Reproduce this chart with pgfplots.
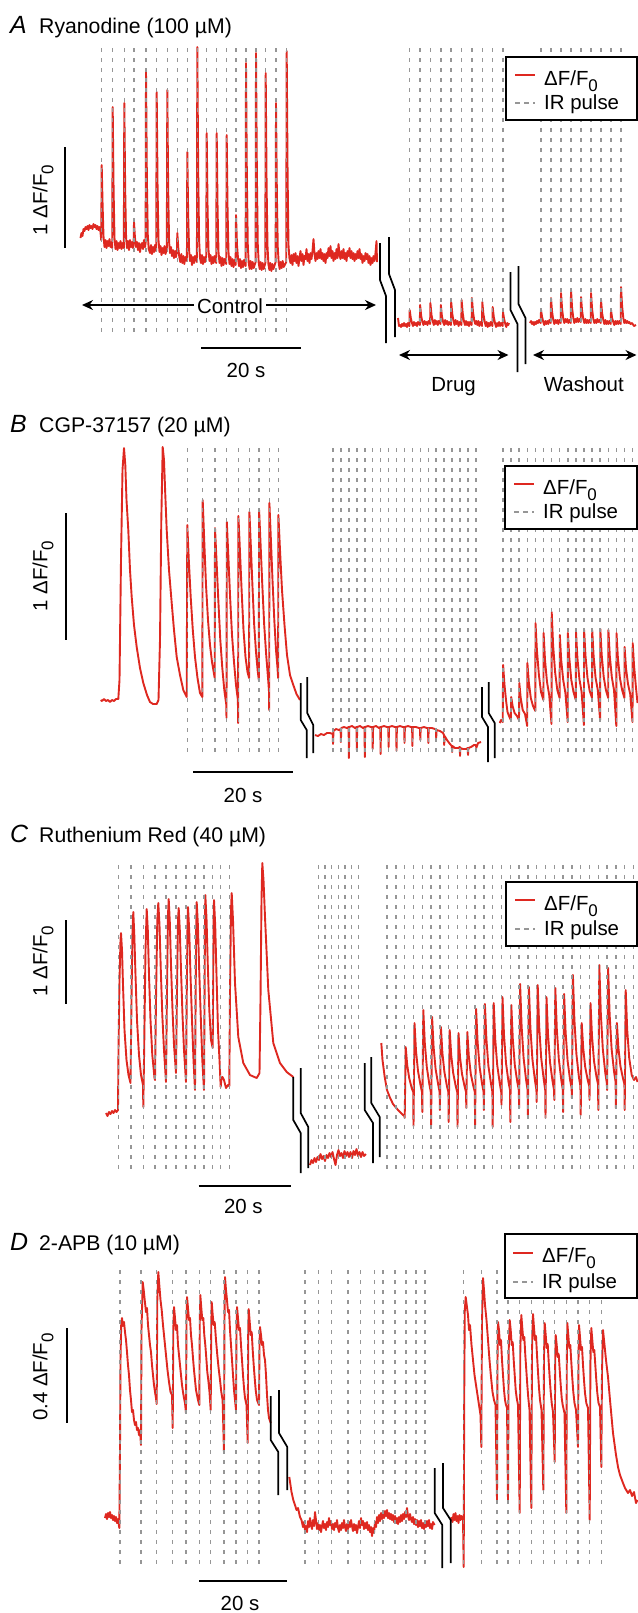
\documentclass[border=0pt]{standalone}
\usepackage{fontspec}
\setmainfont{Liberation Sans}
\usepackage{pgfplots}
\pgfplotsset{compat=1.18}
\usetikzlibrary{arrows.meta}

\definecolor{trred}{RGB}{222,40,32}
\definecolor{irgray}{RGB}{150,150,150}
\newcommand{\dff}{ΔF/F\raisebox{-0.3em}{\fontsize{17}{17}\selectfont 0}}

\pgfplotsset{
  trace/.style={color=trred, line width=1.9bp, line join=round},
  irp/.style={color=irgray, line width=1.5bp, dash pattern=on 4bp off 6bp},
}
\tikzset{
  brk/.style={black, line width=1.7bp},
  sbar/.style={black, line width=2.2bp},
  lbl/.style={font=\fontsize{20.5}{24}\selectfont, inner sep=0pt},
  ttx/.style={font=\fontsize{21.3}{25}\selectfont, inner sep=0pt, anchor=base west},
  ttl/.style={font=\fontsize{25}{28}\selectfont\itshape, inner sep=0pt, anchor=base west},
  dbl/.style={black, line width=1.7bp, {Stealth[length=11bp,width=10bp]}-{Stealth[length=11bp,width=10bp]}},
}

\begin{document}
\begin{tikzpicture}
\begin{axis}[at={(0,0)}, anchor=south west, scale only axis,
  width=638bp, height=1613bp,
  xmin=0, xmax=638, ymin=0, ymax=1613, y dir=reverse,
  hide axis, clip=false]

%% ---------------- panel A: ryanodine ----------------
\addplot[trace] coordinates {
(80.5,238) (81.5,233) (82.5,236) (83.5,229) (84.5,231) (85.5,227) (86.5,229) (87.5,226) (88.5,230) (89.5,225) (90.5,228) (91.5,226) (92.5,229) (93.5,224) (94.5,227) (95.5,225) (96.5,229) (97.5,226) (98.5,230) (99.5,227) (100.5,232)
(101.2,240) (101.7,165) (102.6,205) (103.5,236) (104.5,247) (105.5,240) (106.5,248) (107.5,241) (108.5,246) (109.5,239) (110.5,247) (111.5,242) (112.2,248)
(112.7,107) (113.6,190) (114.5,238) (115.5,249) (116.5,241) (117.5,250) (118.5,243) (119.5,248) (120.5,241) (121.5,249) (122.5,243) (123.8,248)
(124.3,103) (125.2,190) (126.1,238) (127,248) (128,241) (129,250) (130,240) (131,247) (132,242) (133,248) (133.6,244)
(134,222) (135,238) (136,247) (137,242) (138,250) (139,243) (140,252) (141,245) (142,243) (143,249) (144,240) (145,247) (145.6,243)
(146,70) (146.9,180) (147.8,235) (148.7,249) (150,253) (151,245) (152,254) (153,247) (154,252) (155,245) (156.2,251)
(156.7,92) (157.6,190) (158.5,240) (159.5,252) (160.5,246) (161.5,255) (162.5,248) (163.5,253) (164.5,246) (165.5,254) (166.8,249)
(167.3,90) (168.2,190) (169.1,242) (170,253) (171,247) (172,256) (173,250) (174,258) (175,251) (176,257) (176.9,252)
(177.3,233) (178.3,248) (179.3,257) (180.3,262) (181.3,254) (182.3,263) (183.3,256) (184.3,264) (185.3,257) (186.9,261)
(187.3,152) (188.2,215) (189.1,250) (190,261) (191,255) (192,265) (193,257) (194,263) (195,256) (196.9,262)
(197.3,47) (198.2,170) (199.1,240) (200,258) (201,263) (202,255) (203,264) (204,257) (205,262) (206.2,256)
(206.7,133) (207.6,210) (208.5,250) (209.5,261) (210.5,255) (211.5,264) (212.5,257) (213.5,263) (214.5,256) (216.2,263)
(216.7,133) (217.6,210) (218.5,252) (219.5,263) (220.5,257) (221.5,266) (222.5,258) (223.5,265) (224.5,259) (226.2,264)
(226.7,135) (227.6,212) (228.5,252) (229.5,264) (230.5,257) (231.5,266) (232.5,259) (233.5,267) (234.5,260) (235.6,265)
(236,215) (237,245) (238,258) (239,266) (240,259) (241,268) (242,261) (243,267) (244,260) (245.6,266)
(246,63) (246.9,180) (247.8,245) (248.7,263) (249.7,269) (250.7,261) (251.7,269) (252.7,262) (253.7,268) (255.6,262)
(256,53) (256.9,175) (257.8,245) (258.7,263) (259.7,269) (260.7,262) (261.7,270) (262.7,263) (263.7,269) (265.3,263)
(265.7,73) (266.6,185) (267.5,246) (268.4,264) (269.4,270) (270.4,263) (271.4,271) (272.4,264) (273.4,269) (275.6,262)
(276,103) (276.9,195) (277.8,248) (278.7,263) (279.7,269) (280.7,262) (281.7,268) (282.7,261) (283.7,267) (286.2,262)
(286.7,51) (287.6,175) (288.5,245) (289.4,258) (290.5,263) (291.5,255)
(292.5,265) (293.5,254) (294.5,261) (295.5,253) (296.5,263) (297.5,256) (298.5,266) (299.5,258) (300.5,251) (301.5,261) (302.5,254) (303.5,265) (304.5,256) (305.5,259) (306.5,249) (307.5,261) (308.5,254) (309.5,263) (310.5,253) (311.5,259) (312.5,251) (313.5,239) (314.5,254) (315.5,261) (316.5,253) (317.5,259) (318.5,251) (319.5,258) (320.5,249) (321.5,259) (322.5,253) (323.5,261) (324.5,254) (325.5,263) (326.5,253) (327.5,258) (328.5,248) (329.5,256) (330.5,246) (331.5,258) (332.5,251) (333.5,261) (334.5,253) (335.5,259) (336.5,249) (337.5,258) (338.5,244) (339.5,254) (340.5,259) (341.5,251) (342.5,258) (343.5,249) (344.5,259) (345.5,253) (346.5,261) (347.5,251) (348.5,256) (349.5,248) (350.5,258) (351.5,251) (352.5,259) (353.5,253) (354.5,261) (355.5,254) (356.5,259) (357.5,251) (358.5,258) (359.5,249) (360.5,259) (361.5,254) (362.5,263) (363.5,256) (364.5,261) (365.5,253) (366.5,259) (367.5,254) (368.5,263) (369.5,256) (370.5,265) (371.5,258) (372.5,263) (373.5,256) (374.5,261) (375.5,253) (376.5,241) (377,262)
};
\addplot[trace] coordinates {
(398,318) (399,326) (400,325) (401,327) (402,324) (403,326) (404,323) (405,326) (406,324) (407,327) (408,323) (409.4,326)
(409.7,310) (410.8,318) (412,323) (413,326) (414,322) (415,325) (416,323) (417,326) (418,322) (419.8,325)
(420.1,305) (421.2,316) (422.4,322) (423.5,325) (424.5,321) (425.5,324) (426.5,322) (427.5,325) (428.5,321) (430.1,324)
(430.4,303) (431.5,315) (432.7,321) (433.8,325) (434.8,320) (435.8,324) (436.8,321) (437.8,325) (438.8,321) (440.5,324)
(440.8,305) (441.9,316) (443.1,322) (444.2,325) (445.2,320) (446.2,324) (447.2,321) (448.2,325) (449.2,322) (450.9,325)
(451.2,302) (452.3,314) (453.5,321) (454.6,325) (455.6,320) (456.6,324) (457.6,321) (458.6,326) (459.6,322) (461.3,325)
(461.6,300) (462.7,313) (463.9,321) (465,325) (466,321) (467,325) (468,322) (469,326) (470,322) (471.6,325)
(471.9,298) (473,312) (474.2,320) (475.3,324) (476.3,321) (477.3,325) (478.3,321) (479.3,326) (480.3,322) (482,326)
(482.3,302) (483.4,314) (484.6,321) (485.7,326) (486.7,322) (487.7,327) (488.7,323) (489.7,326) (490.7,322) (492.4,326)
(492.7,307) (493.8,317) (495,323) (496.1,327) (497.1,323) (498.1,326) (499.1,322) (500.1,326) (501.1,323) (502.7,326)
(503,312) (504.1,319) (505.3,324) (506.3,327) (507.3,323) (508.3,325) (509,323)
};
\addplot[trace] coordinates {
(530,323) (531,321) (532,324) (533,322) (534,325) (535,322) (536,324) (537,321) (538,323) (539,320) (540.7,323)
(541,310) (542.1,317) (543.3,322) (544.3,325) (545.3,321) (546.3,324) (547.3,321) (548.3,324) (549.3,320) (550.7,323)
(551,298) (552.1,312) (553.3,320) (554.3,324) (555.3,320) (556.3,323) (557.3,320) (558.3,324) (559.3,320) (560.7,323)
(561,293) (562.1,309) (563.3,319) (564.3,323) (565.3,319) (566.3,322) (567.3,319) (568.3,323) (569.3,320) (570.7,323)
(571,290) (572.1,308) (573.3,318) (574.3,323) (575.3,319) (576.3,322) (577.3,318) (578.3,322) (579.3,319) (580.7,322)
(581,297) (582.1,311) (583.3,319) (584.3,323) (585.3,319) (586.3,323) (587.3,320) (588.3,323) (589.3,320) (590.7,323)
(591,293) (592.1,309) (593.3,319) (594.3,323) (595.3,320) (596.3,323) (597.3,319) (598.3,322) (599.3,320) (600.7,323)
(601,300) (602.1,313) (603.3,320) (604.3,324) (605.3,320) (606.3,324) (607.3,321) (608.3,324) (609.3,321) (610.7,324)
(611,310) (612.1,318) (613.3,322) (614.3,325) (615.3,321) (616.3,324) (617.3,321) (618.3,324) (619.3,321) (620.7,324)
(621,287) (622.1,306) (623.3,318) (624.3,323) (625.3,320) (626.3,323) (627.3,321) (628.3,323) (629.3,322) (630.5,324) (632,323) (634,326) (636,325)
};
\pgfplotsinvokeforeach{101.7,112.7,124.3,134,146,156.7,167.3,177.3,187.3,197.3,206.7,216.7,226.7,236,246,256,265.7,276,286.7,409.7,420.1,430.4,440.8,451.2,461.6,471.9,482.3,492.7,503,541,551,561,571,581,591,601,611,621}{
  \addplot[irp] coordinates {(#1,48) (#1,334)};
}

%% ---------------- panel B: CGP-37157 ----------------
\addplot[trace] coordinates {
(100.7,700) (102,701) (104,699) (106,701) (108,700) (110,702) (112,700) (114,701) (116,699) (118.3,699)
(119.5,680) (121,560) (122.5,470) (124,448) (125.3,465) (126.5,500) (128.3,530) (130,570) (131.7,597) (134,625) (136.7,647) (140,668) (143.3,683) (147,695) (150,702) (153,704) (156.7,704) (158.5,700)
(160,640) (161.3,520) (162.7,447) (164,460) (165.3,495) (166.7,530) (169,570) (171.7,603) (174,630) (176.7,657) (180,675) (183.3,690) (186.7,697)
(187.3,525) (188.8,560) (190.7,597) (192.8,630) (195,657) (197.5,678) (200,693) (202.3,697)
(202.7,500) (204.2,540) (206,585) (208,620) (210,645) (212,662) (214.7,678)
(215,528) (216.5,560) (218.3,600) (220.3,640) (222.3,668) (224.3,690) (226.2,704) (226.5,718)
(226.8,522) (228.3,555) (230,595) (232,635) (234,662) (236,685) (237.9,700) (238.1,723)
(238.4,516) (239.9,550) (241.6,590) (243.5,630) (245.5,657) (247.5,672) (249.1,678)
(249.4,512) (250.8,545) (252.4,585) (254.2,625) (256,652) (257.8,672) (258.8,680)
(259.1,510) (260.6,545) (262.3,585) (264.2,625) (266.2,655) (268.2,680) (269.1,693) (269.2,710)
(269.4,503) (270.9,540) (272.5,580) (274.3,620) (276,650) (277.5,668) (278.1,678)
(278.4,515) (280,550) (282,590) (284.5,625) (287,655) (290,675) (293.3,685) (296.5,694) (300,700)
};
\addplot[trace] coordinates {
(315,735) (318,736) (321,734) (324,735) (327,733) (330,733) (332.7,734) (333,744) (333.5,731) (336,729) (339,730) (340.6,729) (340.9,742) (341.3,728) (344,727) (347,728) (348.6,727) (348.9,758) (349.3,727) (352,726) (355,728) (356.5,727) (356.8,750) (357.2,727) (360,726) (363,728) (364.5,727) (364.8,757) (365.2,727) (368,726) (371,727) (372.4,727) (372.7,749) (373.1,727) (376,726) (379,728) (380.3,727) (380.6,754) (381,727) (384,726) (387,727) (388.3,727) (388.6,747) (389,727) (392,726) (395,727) (396.2,727) (396.5,751) (396.9,727) (400,726) (403,727) (404.2,727) (404.5,743) (404.9,727) (408,726) (411,727) (412.1,727) (412.4,746) (412.8,727) (416,727) (419,728) (420,728) (420.3,740) (420.7,728) (424,727) (427,728) (428,728) (428.3,743) (428.7,728) (432,728) (435,729) (436,729) (436.2,738) (436.6,730) (440,731) (443,733) (444,735) (444.2,745) (444.6,736) (447,740) (450,744) (451.8,746) (452.1,752) (452.5,746) (455,748) (458,748) (459.8,747) (460,756) (460.4,748) (463,749) (466,749) (467.7,748) (468,755) (468.4,748) (471,747) (474,745) (476,745) (476.3,748) (478,743) (481,742)
};
\addplot[trace] coordinates {
(499.7,723) (501,720) (502.7,722)
(503.1,665) (504.5,685) (506,700) (507.5,712) (509,716) (510.8,720)
(511.2,697) (512.6,706) (514.6,713) (517,716) (519,720)
(519.3,683) (520.7,698) (522.7,710) (525,714) (527.2,726)
(527.4,663) (528.8,682) (530.8,698) (533,706) (535.3,711)
(535.5,623) (536.9,650) (538.9,675) (541,692) (543.4,700)
(543.6,633) (545,660) (547,682) (549.2,695) (551.5,724)
(551.7,612) (553.1,645) (555.1,672) (557.3,690) (559.6,698)
(559.8,635) (561.2,660) (563.2,680) (565.4,693) (567.7,722)
(567.9,633) (569.3,658) (571.3,680) (573.5,692) (575.8,700)
(576,632) (577.4,658) (579.4,679) (581.6,692) (583.9,725)
(584.1,630) (585.5,656) (587.5,678) (589.7,691) (592,698)
(592.2,630) (593.6,656) (595.6,678) (597.8,690) (600.1,720)
(600.3,629) (601.7,655) (603.7,677) (605.9,690) (608.2,698)
(608.4,630) (609.8,656) (611.8,677) (614,690) (616.3,726)
(616.5,633) (617.9,658) (619.9,678) (622.1,690) (624.4,698)
(624.6,647) (626,668) (628,684) (630.2,694) (632.5,722)
(632.7,643) (634,665) (636,688) (637.5,703)
};
\pgfplotsinvokeforeach{187.3,202.7,215,226.7,238.3,249.3,259,269.3,278.3,333,340.9,348.9,356.8,364.8,372.7,380.6,388.6,396.5,404.5,412.4,420.3,428.3,436.2,444.2,452.1,460,468,476,503,511.1,519.2,527.3,535.4,543.5,551.6,559.7,567.8,575.9,584,592.1,600.2,608.3,616.4,624.5,632.6}{
  \addplot[irp] coordinates {(#1,448) (#1,755)};
}

%% ---------------- panel C: ruthenium red ----------------
\addplot[trace] coordinates {
(106,1113) (107.5,1116) (109,1112) (110.5,1114) (112,1111) (113.5,1113) (115,1110) (116.5,1112) (118,1110)
(118.5,1050) (119.5,980) (120.5,940) (121,933) (122,950) (123,985) (124.5,1030) (126.5,1060) (128.5,1075) (130.5,1083)
(131.5,1000) (132.5,930) (133.3,912) (134.3,935) (135.5,975) (137,1020) (139,1055) (141,1075) (143,1085) (143.3,1107)
(144.3,1040) (145.5,950) (146.7,909) (147.8,930) (149,975) (150.5,1020) (152.3,1055) (154.5,1078) (155,1080)
(156,1000) (157.3,920) (158.3,903) (159.5,925) (160.8,970) (162.3,1015) (164,1050) (166,1082)
(167,990) (168,915) (168.7,899) (169.8,922) (171,965) (172.5,1010) (174,1045) (176,1073)
(177,990) (178,920) (178.7,908) (179.8,930) (181,970) (182.5,1015) (184,1050) (186,1082)
(186.8,990) (187.5,925) (188,907) (189.2,930) (190.5,975) (192,1020) (193.5,1060) (195,1090)
(195.7,990) (196.2,925) (196.7,902) (197.9,925) (199.2,970) (200.7,1015) (202.3,1060) (204,1090)
(204.6,990) (205,920) (205.3,895) (206.5,918) (207.8,965) (209.3,1010) (211,1040) (212.7,1048)
(213.2,980) (213.6,920) (214,900) (215.2,925) (216.5,975) (218,1030) (219.5,1060) (220.7,1087)
(221.5,1078) (222.5,1077) (224,1080) (226,1088) (228,1085) (229.3,1086)
(230,990) (231,910) (231.7,893) (233,920) (235,983) (238.3,1037) (243.3,1063) (250,1075) (256.7,1078) (259,1074) (259.5,1073)
(260.5,1000) (261.5,900) (262.3,863) (263.5,880) (265,917) (268.3,990) (273.3,1043) (280,1063) (286.7,1072) (293.3,1077)
};
\addplot[trace] coordinates {
(310,1165) (311.5,1160) (313,1163) (314.5,1158) (316,1162) (317.5,1157) (319,1160) (320.5,1154) (322,1159) (323.5,1156) (325,1161) (326.5,1155) (328,1158) (329.5,1153) (331,1157) (332.5,1152) (334,1159) (335.5,1165) (337,1155) (338.5,1150) (340,1156) (341.5,1153) (343,1158) (344.5,1151) (346,1156) (347.5,1152) (349,1157) (350.5,1152) (352,1158) (353.5,1151) (355,1155) (356.5,1149) (358,1156) (359.5,1152) (361,1157) (362.5,1152) (364,1156) (366,1154)
};
\addplot[trace] coordinates {
(381.3,1043) (382.5,1060) (384.7,1077) (387,1090) (389.7,1097) (393,1104) (398,1110) (403,1115) (404.4,1116)
(404.7,1118) (405.7,1047) (407.2,1065) (409.2,1078) (411.7,1088) (413.2,1092)
(413.5,1126) (414.5,1023) (416,1051) (418,1071) (420.5,1085) (422,1092)
(422.3,1112) (423.3,1010) (424.8,1043) (426.8,1067) (429.3,1084) (430.8,1092)
(431.1,1125) (432.1,1017) (433.6,1047) (435.6,1069) (438.1,1084) (439.6,1092)
(439.9,1110) (440.9,1027) (442.4,1053) (444.4,1072) (446.9,1086) (448.4,1092)
(448.7,1122) (449.7,1030) (451.2,1055) (453.2,1073) (455.7,1086) (457.2,1092)
(457.5,1127) (458.5,1033) (460,1057) (462,1074) (464.5,1086) (466,1092)
(466.3,1108) (467.3,1032) (468.8,1056) (470.8,1074) (473.3,1086) (474.8,1092)
(475.1,1125) (476.1,1009) (477.6,1042) (479.6,1067) (482.1,1084) (483.6,1092)
(483.9,1110) (484.9,1004) (486.4,1039) (488.4,1066) (490.9,1083) (492.4,1092)
(492.7,1127) (493.7,1003) (495.2,1039) (497.2,1065) (499.7,1083) (501.2,1092)
(501.5,1105) (502.5,997) (504,1035) (506,1063) (508.5,1082) (510,1090)
(510.3,1122) (511.3,1005) (512.8,1039) (514.8,1065) (517.3,1082) (518.8,1090)
(519.1,1108) (520.1,984) (521.6,1026) (523.6,1058) (526.1,1080) (527.6,1090)
(527.9,1115) (528.9,987) (530.4,1028) (532.4,1059) (534.9,1080) (536.4,1090)
(536.7,1102) (537.7,985) (539.2,1027) (541.2,1058) (543.7,1079) (545.2,1090)
(545.5,1118) (546.5,997) (548,1034) (550,1062) (552.5,1081) (554,1090)
(554.3,1100) (555.3,988) (556.8,1029) (558.8,1059) (561.3,1080) (562.8,1090)
(563.1,1112) (564.1,994) (565.6,1032) (567.6,1061) (570.1,1080) (571.6,1088)
(571.9,1098) (572.9,975) (574.4,1020) (576.4,1054) (578.9,1077) (580.4,1086)
(580.7,1115) (581.7,1023) (583.2,1048) (585.2,1067) (587.7,1080) (589.2,1086)
(589.5,1100) (590.5,1003) (592,1036) (594,1061) (596.5,1077) (598,1084)
(598.3,1110) (599.3,965) (600.8,1013) (602.8,1049) (605.3,1073) (606.8,1083)
(607.1,1090) (608.1,968) (609.6,1014) (611.6,1049) (614.1,1072) (615.6,1082)
(615.9,1108) (616.9,1023) (618.4,1048) (620.4,1066) (622.9,1078) (624.4,1084)
(624.7,1110) (625.7,990) (627.2,1030) (629.2,1058) (631.7,1075) (634,1080) (636,1077) (637.5,1082)
};
\pgfplotsinvokeforeach{118.3,131,143.3,155,166,176,186,195,204,212.7,220.7,229.3,318.3,325,331.7,338.3,345,351.7,358.3,387.1,395.9,404.7,413.5,422.3,431.1,439.9,448.7,457.5,466.3,475.1,483.9,492.7,501.5,510.3,519.1,527.9,536.7,545.5,554.3,563.1,571.9,580.7,589.5,598.3,607.1,615.9,624.7,633.5}{
  \addplot[irp] coordinates {(#1,865) (#1,1170)};
}

%% ---------------- panel D: 2-APB ----------------
\addplot[trace] coordinates {
(105,1518) (106,1514) (107,1519) (108,1513) (109,1517) (110,1512) (111,1518) (112,1515) (113,1520) (114,1516) (115,1521) (116,1517) (117,1523) (118,1519) (119.3,1528)
(120,1450) (120.5,1360) (121.2,1325) (122,1318) (123,1326) (124,1322) (125,1332) (126,1340) (127,1352) (128,1365) (129,1375) (130,1390) (131,1400) (132,1412) (133,1410) (134,1420) (135,1425) (136,1422) (137,1430) (138,1428) (139,1435) (140,1430) (141,1445)
(141.5,1330) (142.7,1282) (143.7,1290) (144.7,1300) (146,1312) (147,1308) (148,1325) (149,1335) (150,1345) (151,1352) (152,1365) (153,1375) (154,1385) (155,1392) (156,1398) (156.7,1404)
(157.3,1300) (158.3,1272) (159.3,1285) (160.5,1300) (161.7,1310) (163,1325) (164.5,1340) (166,1355) (167.5,1370) (169,1382) (170.5,1392) (172,1395) (172.7,1428)
(173.3,1330) (174,1307) (175,1318) (176,1330) (177,1325) (178,1345) (179,1355) (180,1365) (181,1375) (182,1385) (183,1392) (184,1398) (185,1403) (186,1413)
(186.5,1320) (187,1297) (188,1308) (189,1320) (190,1318) (191,1335) (192,1345) (193,1358) (194,1370) (195,1380) (196,1390) (197,1395) (198,1400) (199.3,1405)
(199.8,1320) (200.3,1295) (201.3,1308) (202.3,1320) (203.3,1318) (204.3,1335) (205.3,1345) (206.3,1358) (207.3,1372) (208.3,1380) (209.5,1392) (210.7,1410)
(211.2,1330) (211.7,1302) (212.7,1315) (213.7,1325) (214.7,1322) (216,1340) (217.3,1355) (218.6,1368) (220,1380) (221.3,1392) (222.6,1400) (224,1453)
(224.5,1320) (225,1277) (226,1290) (227,1300) (228,1312) (229,1310) (230,1330) (231,1345) (232,1360) (233,1375) (234,1390) (235,1400) (236,1410)
(236.5,1330) (237,1307) (238,1318) (239,1330) (240,1328) (241,1345) (242,1360) (243,1375) (244,1388) (245,1398) (246.5,1405) (247.7,1443)
(248.2,1330) (248.7,1309) (249.7,1322) (250.7,1335) (251.7,1332) (252.7,1350) (253.7,1365) (254.7,1378) (255.7,1390) (257,1400) (259,1405)
(259.5,1345) (260,1327) (261,1335) (262,1345) (263,1342) (264,1355) (265,1360) (266,1375) (267,1395) (268,1410) (269,1418) (270.7,1423)
};
\addplot[trace] coordinates {
(289.3,1477) (290.5,1485) (291.5,1492) (293.3,1500) (295,1505) (296.5,1510) (298,1508) (300,1517) (301.5,1520) (303,1527) (304,1522) (305,1530) (306,1526) (307,1532) (308,1521) (309,1527) (310,1518) (311,1525) (312,1529) (313,1520) (314,1526) (315,1512) (316,1520) (317,1529) (318,1523) (319,1530) (320,1525) (321,1532) (322,1526) (323,1521) (324,1528) (325,1524) (326,1530) (327,1522) (328,1527) (329,1518) (330,1525) (331,1521) (332,1529) (333,1524) (334,1530) (335,1523) (336,1527) (337,1520) (338,1528) (339,1532) (340,1525) (341,1530) (342,1523) (343,1528) (344,1520) (345,1527) (346,1531) (347,1524) (348,1529) (349,1522) (350,1527) (351,1520) (352,1526) (353,1531) (354,1524) (355,1530) (356,1525) (357,1533) (358,1527) (359,1521) (360,1528) (361,1518) (362,1525) (363,1521) (364,1529) (365,1523) (366,1528) (367,1522) (368,1530) (369,1525) (370,1532) (371,1527) (372,1536) (373,1528) (374,1533) (375,1522) (376,1527) (377,1517) (378,1523) (379,1515) (380,1521) (381,1513) (382,1519) (383,1512) (384,1518) (385,1511) (386,1516) (387,1510) (388,1518) (389,1513) (390,1519) (391,1514) (392,1520) (393,1515) (394,1522) (395,1516) (396,1523) (397,1518) (398,1524) (399,1517) (400,1522) (401,1515) (402,1521) (403,1514) (404,1519) (405,1512) (406,1517) (407,1508) (408,1516) (409,1520) (410,1514) (411,1519) (412,1522) (413,1517) (414,1524) (415,1519) (416,1525) (417,1520) (418,1527) (419,1521) (420,1526) (421,1520) (422,1528) (423,1523) (424,1529) (425,1522) (426,1527) (427,1521) (428,1526) (429,1520) (430,1528) (431,1524) (432,1529) (433,1522) (434.5,1525)
};
\addplot[trace] coordinates {
(451.3,1517) (452.5,1522) (453.5,1514) (454.5,1520) (455.5,1513) (456.5,1521) (457.5,1516) (458.5,1523) (459.5,1515) (460.5,1520) (461.5,1516) (463,1520)
(463.7,1567) (464.2,1400) (464.8,1310) (465.7,1297) (466.7,1305) (468,1315) (469,1330) (470,1325) (471.5,1345) (473,1360) (474.5,1375) (476,1385) (477.5,1395) (479,1405) (480.5,1415) (481.3,1447)
(482,1320) (483,1278) (484,1290) (485,1305) (486.5,1320) (488,1340) (489.5,1360) (491,1377) (492.5,1392) (494,1400) (495.5,1405) (497,1500)
(497.5,1360) (498,1322) (499,1330) (500,1345) (501,1340) (502,1360) (503,1375) (504,1390) (505,1400) (506,1405) (507,1408) (508,1502)
(508.7,1350) (509.7,1320) (510.7,1330) (511.7,1345) (512.7,1342) (513.7,1360) (514.7,1375) (515.7,1390) (516.7,1398) (518,1405) (519.7,1513)
(520.3,1350) (521.3,1315) (522.3,1328) (523.3,1340) (524.3,1337) (525.3,1355) (526.3,1370) (527.3,1385) (528.3,1398) (529.5,1410) (531.3,1508)
(532,1350) (533,1314) (534,1328) (535,1340) (536,1336) (537,1355) (538,1372) (539,1388) (540,1400) (541.5,1410) (543.3,1490)
(544,1355) (544.7,1323) (545.7,1335) (546.7,1348) (547.7,1344) (548.7,1362) (549.7,1378) (550.7,1392) (551.7,1403) (553,1412) (554.7,1462)
(555.2,1360) (555.7,1335) (556.7,1345) (557.7,1357) (558.7,1354) (559.7,1370) (560.7,1385) (561.7,1398) (562.7,1405) (564.5,1413) (566.3,1513)
(566.8,1360) (567.3,1323) (568.3,1335) (569.3,1348) (570.3,1345) (571.3,1362) (572.3,1378) (573.3,1392) (574.5,1403) (576,1410) (578,1447)
(578.5,1360) (579,1325) (580,1337) (581,1350) (582,1347) (583,1365) (584,1380) (585,1393) (586.3,1403) (588,1408) (589.7,1520)
(590.4,1365) (591.3,1328) (592.3,1340) (593.3,1352) (594.3,1350) (595.3,1365) (596.3,1380) (597.3,1393) (598.5,1403) (600,1407) (601.3,1467)
(602,1370) (603,1330) (604,1340) (605,1350) (606,1360) (608,1377) (610,1400) (613,1433) (616,1455) (618,1467) (620,1475) (623,1483) (625,1488) (628,1493) (630,1490) (632,1496) (634,1492) (636,1503) (637.5,1500)
};
\pgfplotsinvokeforeach{120,141,156.7,172.7,186,199.3,210.7,224,236,247.7,259,305,318.5,331.6,347.8,360.5,374.3,383,395,406,416,425,463.7,481.3,497,508,519.7,531.3,543.3,554.7,566.3,578,589.7,601.3}{
  \addplot[irp] coordinates {(#1,1270) (#1,1567)};
}

%% ---------------- breaks ----------------
\draw[brk] (axis cs:380,243) -- (axis cs:380,280) -- (axis cs:386,296) -- (axis cs:386,343);
\draw[brk] (axis cs:389,237) -- (axis cs:389,274) -- (axis cs:395,290) -- (axis cs:395,337);
\draw[brk] (axis cs:510.5,272) -- (axis cs:510.5,310) -- (axis cs:517.5,324) -- (axis cs:517.5,372);
\draw[brk] (axis cs:518.5,266) -- (axis cs:518.5,304) -- (axis cs:525.5,318) -- (axis cs:525.5,364);
\draw[brk] (axis cs:300.7,683) -- (axis cs:300.7,720) -- (axis cs:306.7,730) -- (axis cs:306.7,758);
\draw[brk] (axis cs:307.3,677) -- (axis cs:307.3,713) -- (axis cs:313.3,725) -- (axis cs:313.3,753);
\draw[brk] (axis cs:482,687) -- (axis cs:482,717) -- (axis cs:488,727) -- (axis cs:488,762);
\draw[brk] (axis cs:488.7,682) -- (axis cs:488.7,713) -- (axis cs:494.7,723) -- (axis cs:494.7,758);
\draw[brk] (axis cs:293.3,1077) -- (axis cs:293.3,1120) -- (axis cs:300.7,1133) -- (axis cs:300.7,1173);
\draw[brk] (axis cs:300.7,1068) -- (axis cs:300.7,1113) -- (axis cs:308.3,1127) -- (axis cs:308.3,1168);
\draw[brk] (axis cs:364.7,1063) -- (axis cs:364.7,1110) -- (axis cs:373,1123) -- (axis cs:373,1163);
\draw[brk] (axis cs:371.3,1057) -- (axis cs:371.3,1103) -- (axis cs:379.7,1117) -- (axis cs:379.7,1157);
\draw[brk] (axis cs:270.7,1396) -- (axis cs:270.7,1440) -- (axis cs:278.3,1452) -- (axis cs:278.3,1495);
\draw[brk] (axis cs:279,1390) -- (axis cs:279,1433) -- (axis cs:287.3,1447) -- (axis cs:287.3,1490);
\draw[brk] (axis cs:434.7,1468) -- (axis cs:434.7,1513) -- (axis cs:442.3,1525) -- (axis cs:442.3,1568);
\draw[brk] (axis cs:443,1463) -- (axis cs:443,1508) -- (axis cs:450.7,1520) -- (axis cs:450.7,1563);

%% ---------------- scale bars ----------------
\draw[sbar] (axis cs:65,147) -- (axis cs:65,248);
\draw[sbar] (axis cs:201,348) -- (axis cs:301,348);
\draw[sbar] (axis cs:66,513) -- (axis cs:66,640);
\draw[sbar] (axis cs:193.3,771.7) -- (axis cs:293.3,771.7);
\draw[sbar] (axis cs:66,920) -- (axis cs:66,1004);
\draw[sbar] (axis cs:198.5,1186) -- (axis cs:290.9,1186);
\draw[sbar] (axis cs:67.3,1328) -- (axis cs:67.3,1423);
\draw[sbar] (axis cs:199.3,1581) -- (axis cs:286.7,1581);

\node[lbl, rotate=90] at (axis cs:43,200) {1 \dff};
\node[lbl, rotate=90] at (axis cs:43,576) {1 \dff};
\node[lbl, rotate=90] at (axis cs:43,961) {1 \dff};
\node[lbl, rotate=90] at (axis cs:43,1377) {0.4 \dff};
\node[lbl] at (axis cs:246,370) {20 s};
\node[lbl] at (axis cs:243,795) {20 s};
\node[lbl] at (axis cs:243.3,1206) {20 s};
\node[lbl] at (axis cs:240,1603) {20 s};

%% ---------------- arrows ----------------
\draw[dbl] (axis cs:82,305) -- (axis cs:376,305);
\node[lbl, fill=white, inner xsep=3bp, inner ysep=2bp, anchor=base] at (axis cs:230,313) {Control};
\draw[dbl] (axis cs:399,355) -- (axis cs:508.5,355);
\draw[dbl] (axis cs:533,355) -- (axis cs:636.5,355);
\node[lbl, anchor=base] at (axis cs:453.6,391) {Drug};
\node[lbl, anchor=base] at (axis cs:583.8,391) {Washout};

%% ---------------- titles ----------------
\node[ttl] at (axis cs:10,33) {A};
\node[ttx] at (axis cs:39,33) {Ryanodine (100 µM)};
\node[ttl] at (axis cs:10,432) {B};
\node[ttx] at (axis cs:39,432) {CGP-37157 (20 µM)};
\node[ttl] at (axis cs:10,842) {C};
\node[ttx] at (axis cs:39,842) {Ruthenium Red (40 µM)};
\node[ttl] at (axis cs:10,1250) {D};
\node[ttx] at (axis cs:39,1250) {2-APB (10 µM)};

%% ---------------- legends ----------------
\draw[black, line width=2bp, fill=white] (axis cs:506,57) rectangle (axis cs:637,120);
\draw[trred, line width=2.2bp] (axis cs:515,75) -- (axis cs:535,75);
\draw[irgray, line width=1.4bp, dash pattern=on 5bp off 4bp] (axis cs:515,103) -- (axis cs:535,103);
\node[lbl, anchor=base west] at (axis cs:544,85) {\dff};
\node[lbl, anchor=base west] at (axis cs:544,109) {IR pulse};

\draw[black, line width=2bp, fill=white] (axis cs:505,466) rectangle (axis cs:637,529);
\draw[trred, line width=2.2bp] (axis cs:514,484) -- (axis cs:534,484);
\draw[irgray, line width=1.4bp, dash pattern=on 5bp off 4bp] (axis cs:514,512) -- (axis cs:534,512);
\node[lbl, anchor=base west] at (axis cs:543,494) {\dff};
\node[lbl, anchor=base west] at (axis cs:543,518) {IR pulse};

\draw[black, line width=2bp, fill=white] (axis cs:506,882) rectangle (axis cs:637,946);
\draw[trred, line width=2.2bp] (axis cs:515,900) -- (axis cs:535,900);
\draw[irgray, line width=1.4bp, dash pattern=on 5bp off 4bp] (axis cs:515,929) -- (axis cs:535,929);
\node[lbl, anchor=base west] at (axis cs:544,910) {\dff};
\node[lbl, anchor=base west] at (axis cs:544,935) {IR pulse};

\draw[black, line width=2bp, fill=white] (axis cs:504.5,1234) rectangle (axis cs:637,1298);
\draw[trred, line width=2.2bp] (axis cs:513,1253) -- (axis cs:533,1253);
\draw[irgray, line width=1.4bp, dash pattern=on 5bp off 4bp] (axis cs:513,1282) -- (axis cs:533,1282);
\node[lbl, anchor=base west] at (axis cs:542,1262) {\dff};
\node[lbl, anchor=base west] at (axis cs:542,1288) {IR pulse};

\end{axis}
\pgfresetboundingbox
\useasboundingbox (0,0) rectangle (638bp,1613bp);
\end{tikzpicture}
\end{document}
